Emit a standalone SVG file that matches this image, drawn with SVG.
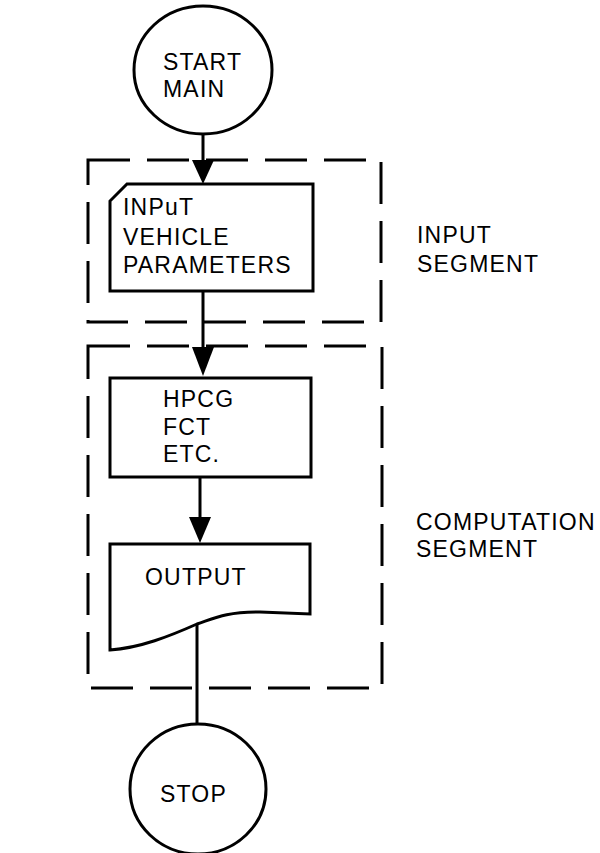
<svg xmlns="http://www.w3.org/2000/svg" width="600" height="853" viewBox="0 0 600 853">
<defs>
<style>
.ln{fill:none;stroke:#000;stroke-width:3}
.dash{fill:none;stroke:#000;stroke-width:3;stroke-dasharray:42 17}
.nd{fill:#fff;stroke:#000;stroke-width:3}
.t{font-family:"Liberation Sans",Arial,sans-serif;font-size:23px;fill:#000;letter-spacing:1.2px}
.ah{fill:#000}
</style>
</defs>
<rect width="600" height="853" fill="#fff"/>
<g id="segments">
<rect id="input-segment-box" class="dash" x="88" y="160" width="293" height="162"/>
<rect id="computation-segment-box" class="dash" x="88" y="346" width="294" height="342"/>
</g>
<g id="connectors">
<line class="ln" x1="203" y1="135" x2="203" y2="162"/>
<polygon class="ah" points="192,160 214,160 203,184"/>
<line class="ln" x1="203" y1="291" x2="203" y2="350"/>
<polygon class="ah" points="192,347 214,347 203,376"/>
<line class="ln" x1="200" y1="477" x2="200" y2="520"/>
<polygon class="ah" points="189,517 211,517 200,543"/>
<line class="ln" x1="197" y1="622" x2="197" y2="724"/>
</g>
<g id="start">
<ellipse class="nd" cx="203" cy="70" rx="69" ry="64"/>
<text class="t" x="163" y="70">START</text>
<text class="t" x="163" y="97">MAIN</text>
</g>
<g id="input">
<path class="nd" d="M127,184 L313,184 L313,291 L110,291 L110,201 Z"/>
<text class="t" x="123" y="215">INPuT</text>
<text class="t" x="123" y="245">VEHICLE</text>
<text class="t" x="123" y="273">PARAMETERS</text>
</g>
<g id="compute">
<rect class="nd" x="110" y="378" width="201" height="99"/>
<text class="t" x="163" y="407">HPCG</text>
<text class="t" x="163" y="435">FCT</text>
<text class="t" x="163" y="462">ETC.</text>
</g>
<g id="output">
<path class="nd" d="M110,544 L310,544 L310,614 L260,612 C225,612 215,618 197,624 C170,636 140,648 110,650 Z"/>
<text class="t" x="145" y="585">OUTPUT</text>
</g>
<g id="stop">
<ellipse class="nd" cx="198" cy="789" rx="68" ry="65"/>
<text class="t" x="160" y="802">STOP</text>
</g>
<g id="labels">
<text class="t" x="417" y="243">INPUT</text>
<text class="t" x="417" y="272">SEGMENT</text>
<text class="t" x="416" y="530">COMPUTATION</text>
<text class="t" x="416" y="557">SEGMENT</text>
</g>
</svg>
